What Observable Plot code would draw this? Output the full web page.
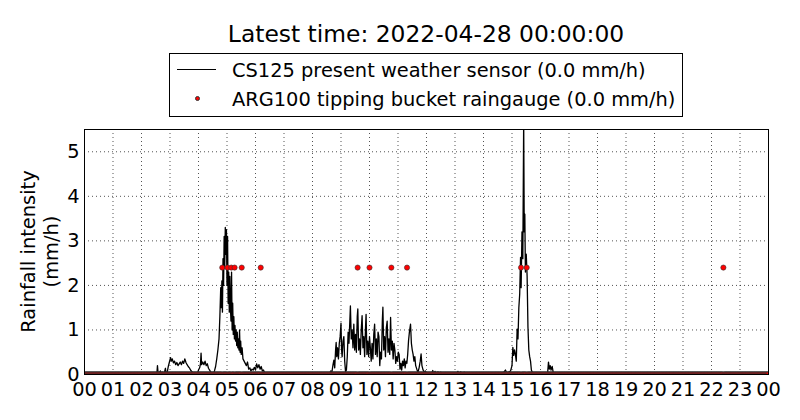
<!DOCTYPE html>
<html>
<head>
<meta charset="utf-8">
<script src="https://cdn.jsdelivr.net/npm/d3@7"></script>
<script src="https://cdn.jsdelivr.net/npm/@observablehq/plot@0.6"></script>
<style>
  html, body { margin: 0; padding: 0; background: #fff; }
  body { font-family: "DejaVu Sans", sans-serif; color: #000; }
  #wrap { position: relative; width: 800px; height: 420px; overflow: hidden; background: #fff; }
  #header { height: 118px; }
  .abs { position: absolute; white-space: nowrap; }
  #title { left: 84px; width: 684px; top: 22px; text-align: center; font-size: 23.4px; line-height: 24px; }
  #legend { left: 169px; top: 53px; width: 514px; height: 64px; box-sizing: border-box; border: 1px solid #000; }
  .legtext { font-size: 19.4px; line-height: 20px; }
  #ylabel { left: -110px; top: 228px; width: 300px; height: 47px; text-align: center; font-size: 19.4px; line-height: 23.3px; transform: rotate(-90deg); transform-origin: 50% 50%; }
</style>
</head>
<body>
<div id="wrap">
  <div id="header"></div>
  <div id="chart"></div>
  <div class="abs" id="title"></div>
  <div class="abs" id="legend"></div>
  <div class="abs" id="ylabel"></div>
</div>
<script>
// ---------------- data ----------------
const titleText = "Latest time: 2022-04-28 00:00:00";
const seriesNames = ["CS125 present weather sensor (0.0 mm/h)", "ARG100 tipping bucket raingauge (0.0 mm/h)"];
const yLabelLines = ["Rainfall intensity", "(mm/h)"];

const hourTicks = [0,1,2,3,4,5,6,7,8,9,10,11,12,13,14,15,16,17,18,19,20,21,22,23,24];
const hourTickLabels = ["00","01","02","03","04","05","06","07","08","09","10","11","12","13","14","15","16","17","18","19","20","21","22","23","00"];
const rateTicks = [0,1,2,3,4,5];
const rateDomain = [0, 5.5];

// CS125 present weather sensor: [hour of day, rainfall intensity mm/h]
const cs125Points = [
  [0,0],[2.50,0],[2.54,0.02],[2.56,0.20],[2.58,0.05],[2.62,0.03],[2.66,0.08],[2.70,0.02],[2.74,0.05],[2.80,0.03],
  [2.84,0.14],[2.86,0.02],[2.90,0.04],[2.94,0.18],[2.98,0.28],[3.02,0.38],[3.05,0.30],[3.08,0.35],[3.12,0.26],[3.16,0.30],
  [3.20,0.22],[3.24,0.27],[3.28,0.20],[3.32,0.24],[3.36,0.28],[3.40,0.22],[3.44,0.30],[3.48,0.25],[3.52,0.35],[3.56,0.27],
  [3.60,0.22],[3.64,0.18],[3.68,0.15],[3.72,0.10],[3.76,0.07],[3.80,0.04],[3.84,0.03],[3.88,0.02],[3.92,0.04],[3.96,0.02],
  [4.00,0.10],[4.04,0.15],[4.07,0.24],[4.09,0.48],[4.11,0.22],[4.15,0.28],[4.19,0.22],[4.23,0.30],[4.27,0.20],[4.31,0.24],
  [4.35,0.14],[4.39,0.10],[4.43,0.05],[4.47,0.02],[4.52,0.01],[4.56,0.08],[4.60,0.18],[4.64,0.35],[4.68,0.55],[4.72,0.80],
  [4.75,1.30],[4.78,1.95],[4.80,1.50],[4.82,2.10],[4.84,1.40],[4.86,2.60],[4.88,2.00],[4.90,3.10],[4.92,2.40],[4.94,3.30],
  [4.96,2.70],[4.98,3.25],[5.00,2.00],[5.02,3.10],[5.04,1.60],[5.06,2.30],[5.08,1.40],[5.10,2.20],[5.12,1.50],[5.14,1.20],
  [5.16,2.30],[5.18,1.00],[5.20,1.60],[5.22,0.90],[5.24,1.30],[5.26,0.80],[5.28,1.10],[5.30,0.75],[5.32,1.00],[5.34,0.65],
  [5.36,0.95],[5.38,0.60],[5.40,0.80],[5.42,0.55],[5.44,1.00],[5.46,0.50],[5.48,0.75],[5.50,0.45],[5.53,0.60],[5.56,0.35],
  [5.60,0.30],[5.64,0.25],[5.68,0.20],[5.72,0.28],[5.76,0.12],[5.80,0.15],[5.84,0.08],[5.88,0.12],[5.92,0.10],[5.96,0.16],
  [6.00,0.10],[6.04,0.24],[6.08,0.15],[6.12,0.22],[6.16,0.12],[6.20,0.18],[6.24,0.08],[6.28,0.10],[6.32,0.04],[6.36,0.02],
  [6.40,0],[8.55,0],[8.60,0.02],[8.64,0.08],[8.68,0.05],[8.72,0.22],[8.75,0.32],[8.78,0.15],[8.81,0.55],[8.83,0.72],
  [8.85,0.40],[8.88,0.60],[8.91,0.35],[8.94,0.70],[8.97,0.85],[9.00,1.15],[9.02,0.55],[9.04,0.40],[9.07,0.75],[9.10,0.85],
  [9.13,0.30],[9.16,0.06],[9.19,0.10],[9.22,0.40],[9.25,0.95],[9.28,0.70],[9.31,1.20],[9.33,1.54],[9.36,0.80],[9.39,1.00],
  [9.42,0.60],[9.45,1.13],[9.48,0.55],[9.51,0.90],[9.54,0.50],[9.57,1.30],[9.59,1.47],[9.62,0.55],[9.65,0.80],[9.68,0.45],
  [9.71,1.00],[9.74,1.32],[9.77,0.60],[9.80,0.85],[9.83,0.40],[9.86,1.05],[9.88,1.35],[9.91,0.45],[9.94,0.75],[9.97,0.40],
  [10.00,0.85],[10.03,0.60],[10.06,0.30],[10.09,0.70],[10.12,0.35],[10.15,0.90],[10.18,1.13],[10.21,0.45],[10.24,0.80],[10.27,0.40],
  [10.30,0.95],[10.33,0.85],[10.36,0.20],[10.39,0.50],[10.42,0.35],[10.45,1.20],[10.47,1.51],[10.50,0.55],[10.53,0.85],[10.56,0.40],
  [10.59,1.05],[10.62,1.20],[10.65,0.50],[10.68,0.80],[10.71,0.45],[10.74,1.28],[10.77,0.55],[10.80,0.75],[10.83,0.35],[10.86,0.70],
  [10.89,0.55],[10.92,0.25],[10.95,0.40],[10.98,0.30],[11.01,0.50],[11.04,0.45],[11.07,0.12],[11.10,0.25],[11.13,0.10],[11.16,0.30],
  [11.19,0.20],[11.22,0.35],[11.25,0.15],[11.28,0.30],[11.31,0.25],[11.34,0.45],[11.37,0.76],[11.40,0.95],[11.44,1.13],[11.47,0.70],
  [11.50,0.55],[11.53,0.45],[11.56,0.30],[11.59,0.40],[11.62,0.20],[11.66,0.12],[11.70,0.05],[11.74,0.15],[11.78,0.30],[11.81,0.46],
  [11.84,0.20],[11.88,0.10],[11.92,0.05],[11.96,0.08],[12.00,0.03],[12.05,0.01],[12.10,0],[12.18,0.02],[12.22,0.09],[12.25,0.02],
  [12.30,0.07],[12.34,0.01],[12.40,0.06],[12.45,0.02],[12.50,0.05],[12.55,0],[12.90,0],[13.05,0.02],[13.10,0.07],[13.14,0.02],
  [13.20,0.06],[13.25,0.01],[13.32,0.05],[13.38,0],[13.85,0],[13.92,0.03],[13.96,0],[14.10,0.02],[14.14,0],[14.25,0.03],
  [14.30,0],[14.62,0],[14.70,0.04],[14.77,0.10],[14.82,0.03],[14.90,0.06],[14.95,0.08],[15.00,0.20],[15.03,0.61],[15.06,0.43],
  [15.09,0.55],[15.12,0.45],[15.15,0.30],[15.18,1.02],[15.21,0.80],[15.24,1.50],[15.27,1.80],[15.30,2.63],[15.32,1.95],[15.35,3.20],
  [15.38,2.60],[15.41,5.70],[15.43,3.20],[15.45,3.60],[15.47,2.30],[15.50,2.70],[15.53,2.22],[15.56,1.06],[15.59,0.55],[15.62,0.40],
  [15.65,0.30],[15.68,0.10],[15.72,0.03],[15.77,0],[16.20,0],[16.25,0.04],[16.28,0.28],[16.31,0.12],[16.34,0.20],[16.37,0.10],
  [16.41,0.18],[16.45,0.03],[16.50,0],[24,0]
];

// ARG100 tipping bucket: one reading per minute; tips (2.4 mm/h) at these hours, 0 otherwise
const argTipHours = [4.83, 5.01, 5.15, 5.26, 5.51, 6.18, 9.58, 10.00, 10.76, 11.32, 15.32, 15.51, 22.41];
const argTipRate = 2.4;
const argMinutesPerDay = 1440;

// ---------------- build ----------------
const tipMinutes = new Set(argTipHours.map(h => Math.round(h * 60)));
const argReadings = d3.range(0, argMinutesPerDay + 1).map(m => ({hour: m / 60, rate: tipMinutes.has(m) ? argTipRate : 0}));

const fontSize = "19.4px";
const gridStyle = {stroke: "#000", strokeOpacity: 0.85, strokeWidth: 0.8, strokeDasharray: "1,3"};

const chart = Plot.plot({
  width: 800,
  height: 302,
  marginTop: 11,
  marginBottom: 46,
  marginLeft: 84,
  marginRight: 32,
  style: {fontFamily: "DejaVu Sans", fontSize: fontSize, background: "#fff", color: "#000", overflow: "visible"},
  x: {domain: [hourTicks[0], hourTicks[hourTicks.length - 1]], label: null},
  y: {domain: rateDomain, label: null},
  marks: [
    Plot.gridX(hourTicks, {x: d => d, ...gridStyle}),
    Plot.gridY(rateTicks, {y: d => d, ...gridStyle}),
    Plot.line(cs125Points, {x: d => d[0], y: d => d[1], stroke: "#000", strokeWidth: 1.3, clip: true}),
    Plot.dot(argReadings, {x: "hour", y: "rate", r: 2.6, fill: "#ff0000", stroke: "#333", strokeWidth: 0.6, clip: true}),
    Plot.frame({stroke: "#000", strokeWidth: 1}),
    Plot.axisX(hourTicks, {x: d => d, anchor: "bottom", tickSize: 0, tickPadding: 8, tickFormat: (d) => hourTickLabels[hourTicks.indexOf(d)], fontSize: 19.4, label: null}),
    Plot.axisY(rateTicks, {y: d => d, anchor: "left", tickSize: 0, tickPadding: 5, tickFormat: d => String(d), fontSize: 19.4, label: null})
  ]
});
document.getElementById("chart").appendChild(chart);

// title
document.getElementById("title").textContent = titleText;

// legend
function addAbs(parent, css, text) {
  const el = document.createElement("div");
  el.className = "abs";
  Object.assign(el.style, css);
  if (text != null) el.textContent = text;
  parent.appendChild(el);
  return el;
}
const wrap = document.getElementById("wrap");
addAbs(wrap, {left: "177px", top: "69px", width: "39px", height: "0px", borderTop: "1.3px solid #000"});
addAbs(wrap, {left: "194.6px", top: "95.8px", width: "3.4px", height: "3.4px", borderRadius: "50%", background: "#ff0000", border: "0.6px solid #333"});
addAbs(wrap, {left: "232px", top: "60.5px"}, seriesNames[0]).classList.add("legtext");
addAbs(wrap, {left: "232px", top: "89.5px"}, seriesNames[1]).classList.add("legtext");

// y label
document.getElementById("ylabel").innerHTML = yLabelLines.map(s => `<div>${s}</div>`).join("");
</script>
</body>
</html>
